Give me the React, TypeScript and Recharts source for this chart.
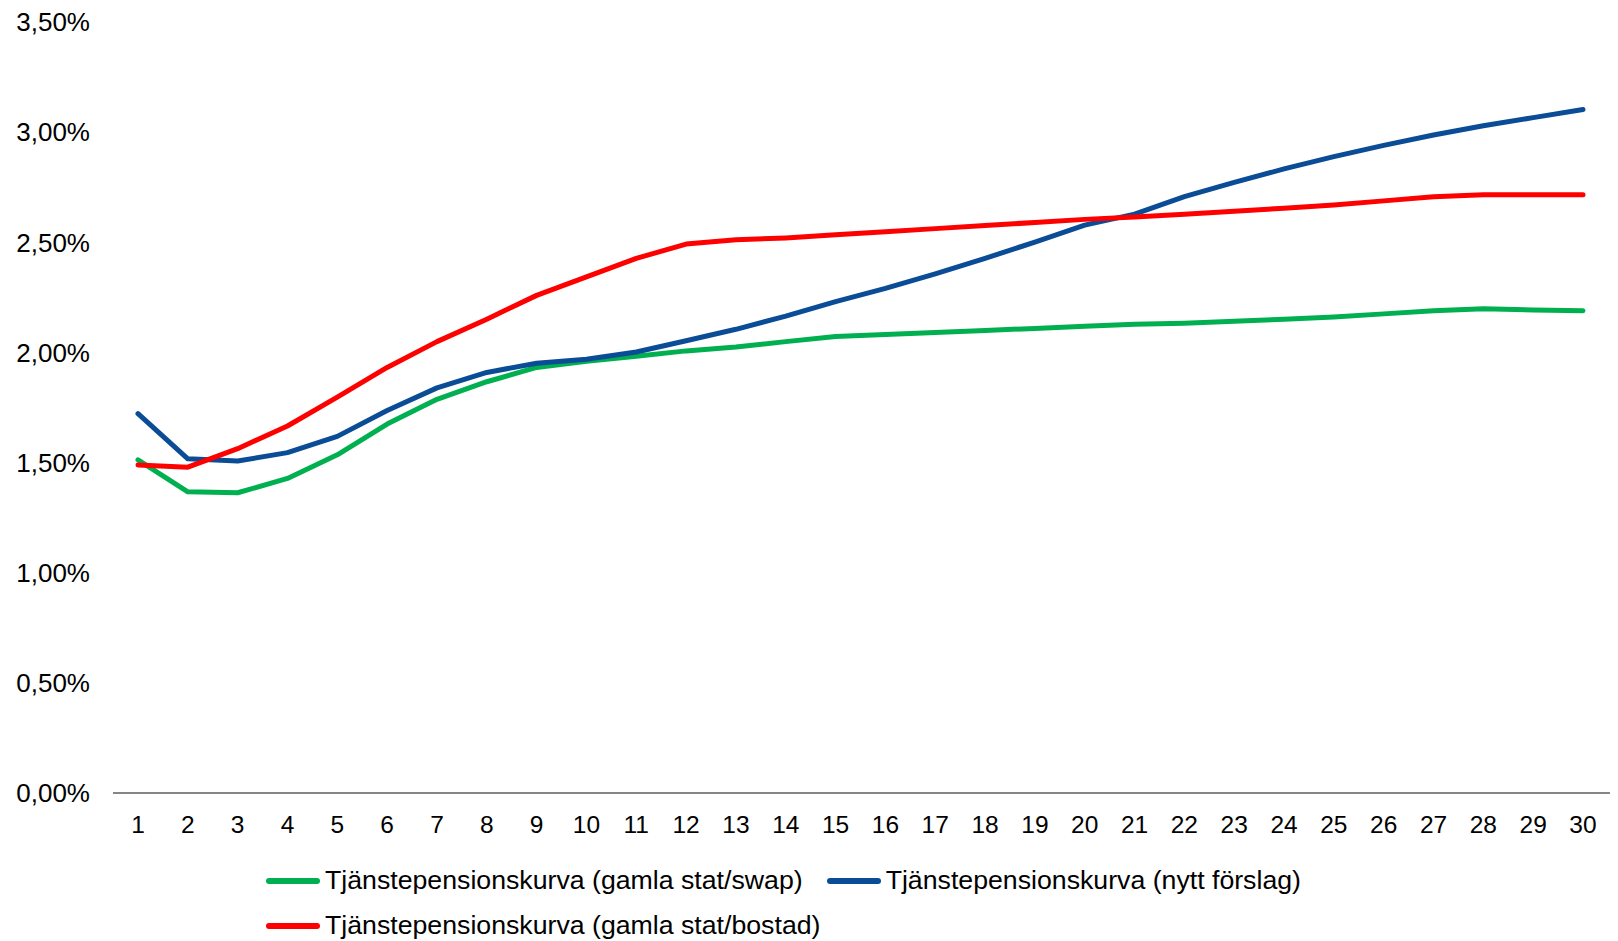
import React from 'react';
import { LineChart, Line, XAxis, YAxis, Legend } from 'recharts';

const years = [1, 2, 3, 4, 5, 6, 7, 8, 9, 10, 11, 12, 13, 14, 15, 16, 17, 18, 19, 20, 21, 22, 23, 24, 25, 26, 27, 28, 29, 30];

const swapCurve = [1.512, 1.367, 1.363, 1.428, 1.535, 1.675, 1.787, 1.867, 1.932, 1.96, 1.983, 2.007, 2.025, 2.049, 2.072, 2.081, 2.091, 2.1, 2.109, 2.119, 2.128, 2.133, 2.142, 2.151, 2.161, 2.175, 2.189, 2.198, 2.193, 2.189];

const newCurve = [1.722, 1.517, 1.507, 1.545, 1.619, 1.736, 1.839, 1.909, 1.951, 1.969, 2.002, 2.053, 2.105, 2.165, 2.231, 2.291, 2.357, 2.427, 2.501, 2.578, 2.628, 2.707, 2.772, 2.833, 2.889, 2.94, 2.987, 3.029, 3.066, 3.103];

const bostadCurve = [1.489, 1.479, 1.563, 1.666, 1.797, 1.932, 2.049, 2.151, 2.259, 2.343, 2.427, 2.492, 2.511, 2.52, 2.534, 2.548, 2.562, 2.576, 2.59, 2.604, 2.615, 2.627, 2.641, 2.655, 2.669, 2.688, 2.707, 2.716, 2.716, 2.716];

const yTicks = [0, 0.5, 1, 1.5, 2, 2.5, 3, 3.5];

const seriesNames = [
  'Tjänstepensionskurva (gamla stat/swap)',
  'Tjänstepensionskurva (nytt förslag)',
  'Tjänstepensionskurva (gamla stat/bostad)',
];
const seriesKeys = ['swap', 'nytt', 'bostad'];
const seriesColors = ['#00B050', '#0B4C96', '#FF0000'];

const data = years.map((y, i) => ({
  year: y,
  swap: swapCurve[i],
  nytt: newCurve[i],
  bostad: bostadCurve[i],
}));

const FONT = '"Liberation Sans", Arial, sans-serif';

const fmt = (v: number) => v.toFixed(2).replace('.', ',') + '%';

const LegendContent = () => (
  <div
    style={{
      display: 'flex',
      flexWrap: 'wrap',
      width: 1060,
      fontFamily: FONT,
      fontSize: 26.7,
      color: '#000',
      lineHeight: '45px',
    }}
  >
    {seriesNames.map((name, i) => (
      <div key={name} style={{ display: 'flex', alignItems: 'center', marginRight: 24, whiteSpace: 'nowrap' }}>
        <span
          style={{
            display: 'inline-block',
            width: 54,
            height: 6,
            borderRadius: 3,
            background: seriesColors[i],
            marginRight: 5,
          }}
        />
        <span>{name}</span>
      </div>
    ))}
  </div>
);

export default function App() {
  return (
    <div style={{ width: 1610, height: 933 }}>
      <LineChart
        width={1610}
        height={933}
        data={data}
        margin={{ top: 14, right: 8, bottom: 108, left: 0 }}
      >
        <XAxis
          dataKey="year"
          type="category"
          padding={{ left: 25, right: 27 }}
          tickLine={false}
          tickSize={0}
          tickMargin={23}
          height={40}
          stroke="#868686"
          strokeWidth={2}
          interval={0}
          tick={{ fill: '#000', fontSize: 24.5, fontFamily: FONT }}
        />
        <YAxis
          domain={[0, 3.5]}
          ticks={yTicks}
          tickFormatter={fmt}
          axisLine={false}
          tickLine={false}
          tickSize={0}
          tickMargin={23}
          width={105}
          interval={0}
          tick={{ fill: '#000', fontSize: 26, fontFamily: FONT }}
        />
        {seriesKeys.map((k, i) => (
          <Line
            key={k}
            type="linear"
            dataKey={k}
            name={seriesNames[i]}
            stroke={seriesColors[i]}
            strokeWidth={5}
            dot={false}
            activeDot={false}
            strokeLinecap="round"
            strokeLinejoin="round"
            isAnimationActive={false}
          />
        ))}
        <Legend
          layout="horizontal"
          verticalAlign="middle"
          align="center"
          content={<LegendContent />}
          wrapperStyle={{ top: 850, left: 258, width: 1060, height: 90 }}
        />
      </LineChart>
    </div>
  );
}
